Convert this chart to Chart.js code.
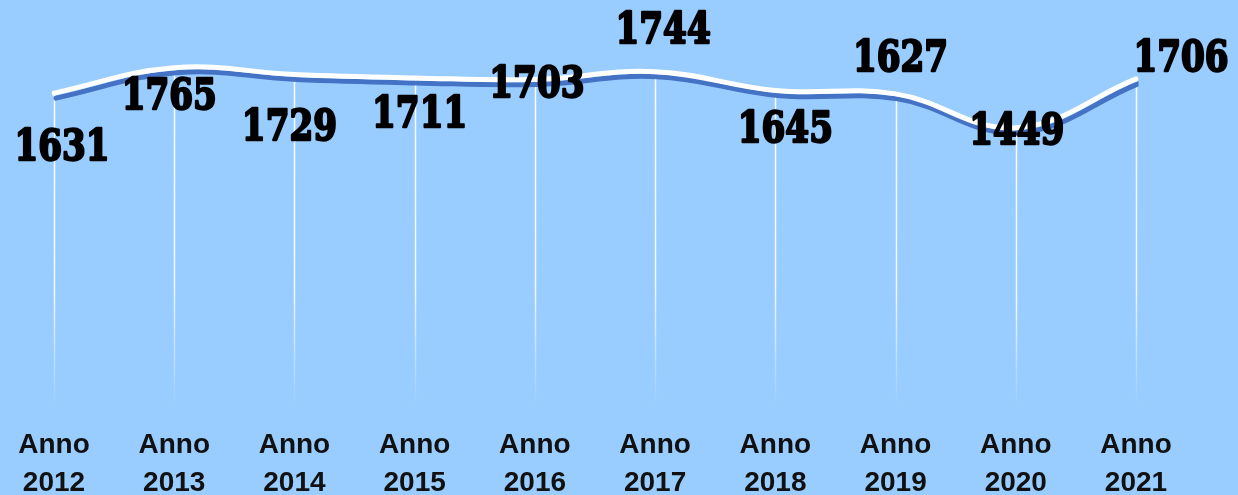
<!DOCTYPE html>
<html>
<head>
<meta charset="utf-8">
<script src="https://cdn.jsdelivr.net/npm/chart.js@4/dist/chart.umd.min.js"></script>
<style>
  html, body { margin: 0; padding: 0; background: #99CCFF; }
  #wrap { width: 1238px; height: 495px; }
</style>
</head>
<body>
<div id="wrap"><canvas id="canvas"></canvas></div>
<script>
var years = [["Anno", "2012"], ["Anno", "2013"], ["Anno", "2014"], ["Anno", "2015"], ["Anno", "2016"],
             ["Anno", "2017"], ["Anno", "2018"], ["Anno", "2019"], ["Anno", "2020"], ["Anno", "2021"]];
var totals = [1631, 1765, 1729, 1711, 1703, 1744, 1645, 1627, 1449, 1706];

// where each value label sits relative to its point (hand placed in the original)
var labelShift = [[8, 52], [-5, 26], [-5, 50], [5, 34], [2, 2], [8, -44], [10, 36], [5, -38], [1, 1], [45, -23]];

// white drop lines from each point, fading out towards the bottom
var dropLines = {
    id: 'dropLines',
    beforeDatasetsDraw: function (chart) {
        var ctx = chart.ctx;
        var bottom = chart.chartArea.bottom;
        var meta = chart.getDatasetMeta(0);
        ctx.save();
        meta.data.forEach(function (pt) {
            var g = ctx.createLinearGradient(0, pt.y, 0, bottom);
            g.addColorStop(0, 'rgba(255,255,255,1)');
            g.addColorStop(0.65, 'rgba(255,255,255,0.85)');
            g.addColorStop(1, 'rgba(255,255,255,0.05)');
            ctx.strokeStyle = g;
            ctx.lineWidth = 1.5;
            ctx.beginPath();
            ctx.moveTo(Math.round(pt.x) + 0.5, pt.y);
            ctx.lineTo(Math.round(pt.x) + 0.5, bottom);
            ctx.stroke();
        });
        ctx.restore();
    }
};

// blue shadow under the white line
var lineShadow = {
    id: 'lineShadow',
    beforeDatasetDraw: function (chart) {
        var ctx = chart.ctx;
        ctx.save();
        ctx.shadowColor = '#4472C4';
        ctx.shadowOffsetX = 2;
        ctx.shadowOffsetY = 5;
        ctx.shadowBlur = 0;
    },
    afterDatasetDraw: function (chart) {
        chart.ctx.restore();
    }
};

var valueLabels = {
    id: 'valueLabels',
    afterDatasetsDraw: function (chart) {
        var ctx = chart.ctx;
        var meta = chart.getDatasetMeta(0);
        meta.data.forEach(function (pt, i) {
            ctx.save();
            ctx.translate(pt.x + labelShift[i][0], pt.y + labelShift[i][1]);
            ctx.scale(0.95, 1.18);
            ctx.font = 'bold 36px "DejaVu Serif"';
            ctx.fillStyle = '#000000';
            ctx.strokeStyle = '#000000';
            ctx.lineWidth = 2;
            ctx.lineJoin = 'round';
            ctx.textAlign = 'center';
            ctx.textBaseline = 'alphabetic';
            ctx.strokeText(String(totals[i]), 0, 13);
            ctx.fillText(String(totals[i]), 0, 13);
            ctx.restore();
        });
    }
};

var ctx = document.getElementById("canvas").getContext("2d");
new Chart(ctx, {
    type: 'line',
    data: {
        labels: years,
        datasets: [{
            data: totals,
            borderColor: '#FFFFFF',
            borderWidth: 5,
            borderCapStyle: 'round',
            borderJoinStyle: 'round',
            tension: 0.4,
            pointRadius: 0,
            fill: false
        }]
    },
    options: {
        responsive: true,
        maintainAspectRatio: false,
        animation: false,
        layout: { padding: { left: 54, right: 102, top: 23, bottom: 0 } },
        plugins: { legend: { display: false }, tooltip: { enabled: false } },
        scales: {
            x: {
                offset: false,
                grid: { display: false },
                border: { display: false },
                afterFit: function (scale) { scale.height = 92; },
                ticks: {
                    color: '#111111',
                    padding: 16,
                    maxRotation: 0,
                    autoSkip: false,
                    font: { family: '"Liberation Sans"', weight: 'bold', size: 28, lineHeight: 1.33 }
                }
            },
            y: {
                display: false,
                min: 0,
                max: 2000
            }
        }
    },
    plugins: [dropLines, lineShadow, valueLabels]
});
</script>
</body>
</html>
